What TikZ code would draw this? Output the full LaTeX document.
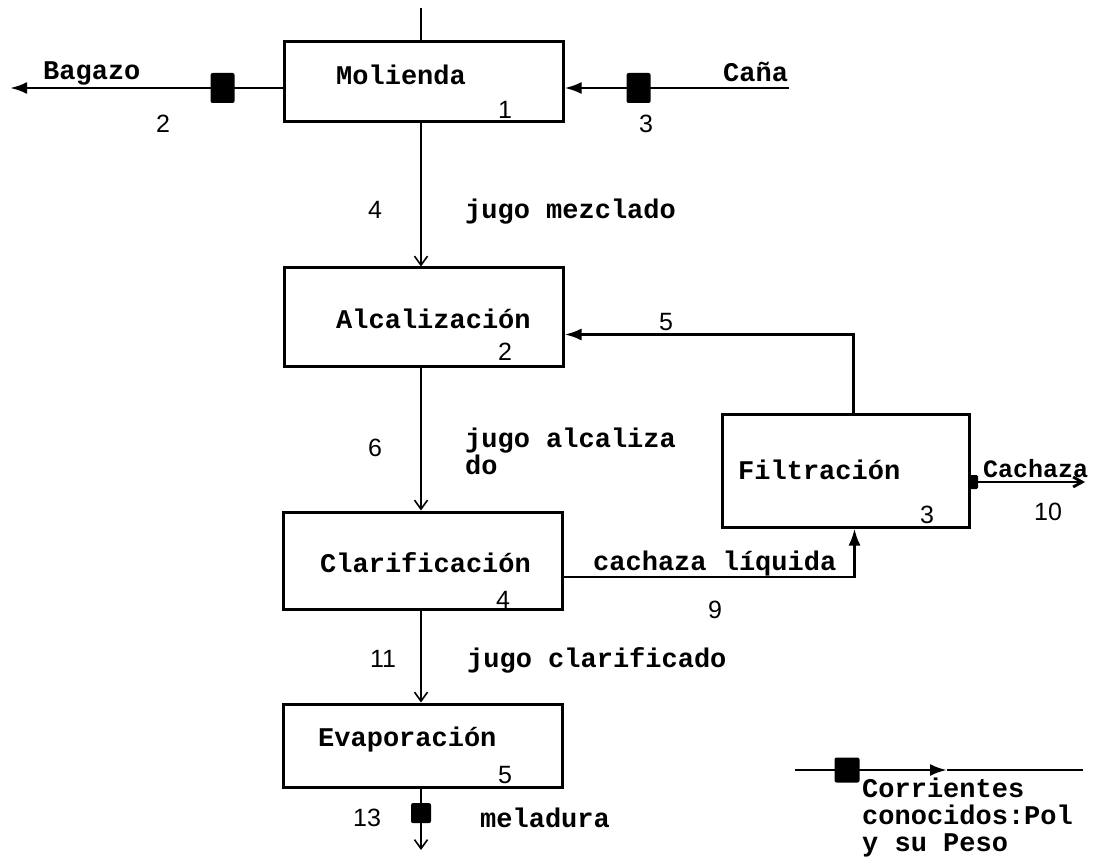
\documentclass[tikz,border=0pt]{standalone}
\usepackage{fontspec}
\setmainfont{Liberation Mono}
\newfontfamily\numf{Liberation Sans}
\usetikzlibrary{arrows.meta}
\begin{document}
\begin{tikzpicture}[x=1pt,y=-1pt,
  box/.style={draw,line width=3pt,minimum width=279pt,inner sep=0pt},
  txt/.style={anchor=west,inner sep=0pt,font=\fontsize{27}{27}\selectfont\bfseries},
  num/.style={inner sep=0pt,font=\numf\fontsize{25}{28}\selectfont},
  sq/.style={fill=black,rounded corners=2pt,minimum width=24pt,minimum height=30pt,inner sep=0pt},
  thin/.style={line width=1.6pt},
  thick/.style={line width=2.8pt},
  openarr/.style={-{Straight Barb[length=9pt,width=13pt,line width=1.6pt]}},
  fillarr/.style={-{Latex[length=17pt,width=12pt]}}
]
\useasboundingbox (0,0) rectangle (1114,866);

% boxes
\node[box,minimum height=80pt] (mol) at (423.5,82) {};
\node[box,minimum height=99pt] (alc) at (423.5,317.5) {};
\node[box,minimum height=97pt] (cla) at (423,560.5) {};
\node[box,minimum height=83pt] (eva) at (423,745.5) {};
\node[box,minimum width=247pt,minimum height=112pt] (fil) at (845.5,471) {};

% box texts
\node[txt] (tmol) at (336,75) {Molienda};
\node[txt] (talc) at (336,319) {Alcalización};
\node[txt] (tcla) at (320,563) {Clarificación};
\node[txt] (teva) at (318,740) {Evaporación};
\node[txt] (tfil) at (738,470) {Filtración};

% box numbers
\node[num] (n1) at (505,110) {1};
\node[num] (n2) at (505,352) {2};
\node[num] (n3) at (927,515) {3};
\node[num] (n4) at (503,600) {4};
\node[num] (n5) at (505,775) {5};

% coordinates for free ends
\coordinate (top) at (421,8);
\coordinate (bagend) at (10,88);
\coordinate (canend) at (789,88);
\coordinate (melend) at (421,850);
\coordinate (cacend) at (1085,482);
\coordinate (legA) at (795,770);
\coordinate (legM) at (947,770);
\coordinate (legB) at (1083,770);

% top line
\draw[thin] (top) -- (top |- mol.north);

% Bagazo
\draw[thick,fillarr] ([yshift=-6pt]mol.west) -- (bagend)
  node[sq,pos=0.22] (sqbag) {};
\node[txt] (tbag) at (43,73) {Bagazo};
\node[num] (s2) at (163,124) {2};

% Caña
\draw[thick,fillarr] (canend) -- ([yshift=-6pt]mol.east)
  node[sq,pos=0.67] (sqcan) {};
\node[txt] (tcan) at (723,72) {Caña};
\node[num] (s3) at (646,124) {3};

% verticals
\draw[thin,openarr] ([xshift=-2.5pt]mol.south) -- ([xshift=-2.5pt]alc.north);
\node[num] (s4) at (375,210) {4};
\node[txt] (tjm) at (465,212) {jugo mezclado};

\draw[thin,openarr] ([xshift=-2.5pt]alc.south) -- ([xshift=-2pt]cla.north);
\node[num] (s6) at (375,448) {6};
\node[txt,align=left,anchor=north west] (tja) at (465,428) {jugo alcaliza\\do};

\draw[thin,openarr] ([xshift=-2pt]cla.south) -- ([xshift=-2pt]eva.north);
\node[num] (s11) at (383,659) {11};
\node[txt] (tjc) at (467,660) {jugo clarificado};

\draw[thin,openarr] ([xshift=-2pt]eva.south) -- (melend)
  node[sq,pos=0.4,minimum width=20pt,minimum height=20pt] (sqmel) {};
\node[num] (s13) at (367,818) {13};
\node[txt] (tmel) at (480,818) {meladura};

% feedback 5
\draw[thick,fillarr] ([xshift=8pt]fil.north) |- ([yshift=-17pt]alc.east);
\node[num] (s5) at (666,322) {5};

% cachaza liquida 9
\draw[thick,fillarr] ([yshift=-16.5pt]cla.east) -| ([xshift=9pt]fil.south);
\node[txt] (tcl) at (593,564) {cachaza líquida};
\node[num] (s9) at (715,610) {9};

% Cachaza 10
\draw[thick,-{Straight Barb[length=9pt,width=10pt]}] ([yshift=-11pt]fil.east) -- (cacend);
\node[fill=black,minimum width=9pt,minimum height=14pt,inner sep=0pt,rounded corners=1.5pt] (sqcac) at ([xshift=3pt,yshift=-11pt]fil.east) {};
\node[txt,font=\fontsize{25}{25}\selectfont\bfseries] (tcac) at (983,469) {Cachaza};
\node[num] (s10) at (1048,512) {10};

% legend
\draw[thick,fillarr] (legA) -- (legM);
\draw[thick] (legM) -- (legB);
\node[sq,minimum width=25pt,minimum height=25pt] (sqleg) at (847,770) {};
\node[txt,align=left,anchor=north west] (leg) at (862,778) {Corrientes\\conocidos:Pol\\y su Peso};
\end{tikzpicture}
\end{document}
